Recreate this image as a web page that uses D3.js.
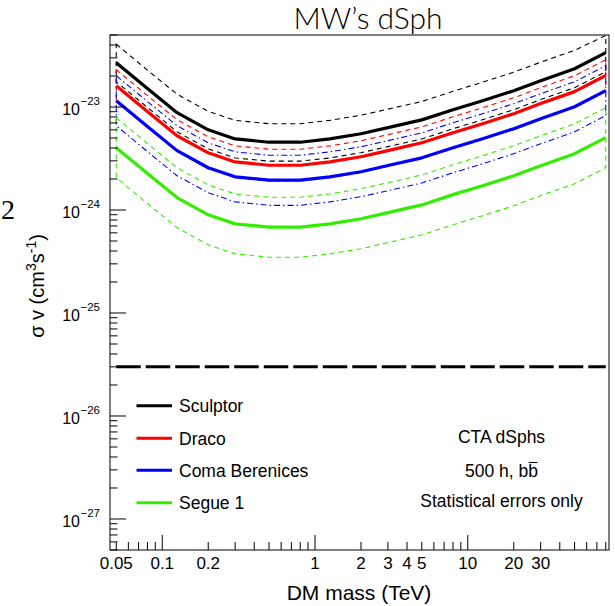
<!DOCTYPE html>
<html>
<head>
<meta charset="utf-8">
<script src="https://cdn.jsdelivr.net/npm/d3@7"></script>
<style>
  html, body { margin: 0; padding: 0; background: #fff; }
  svg { display: block; font-family: "Liberation Sans", Arial, Helvetica, sans-serif; }
</style>
</head>
<body>
<svg id="chart" width="615" height="606"></svg>
<script>
'use strict';

/* DM mass grid (TeV) and sigma-v limits */
const masses = [0.05, 0.08, 0.125, 0.2, 0.3, 0.5, 0.8, 1.25, 2, 3, 5, 8, 12.5, 20, 30, 50, 80];

const sculptor   = [2.69e-23, 1.51e-23, 8.8e-24, 6.0e-24, 4.9e-24, 4.55e-24, 4.55e-24, 4.9e-24, 5.5e-24, 6.3e-24, 7.5e-24, 9.4e-24, 1.15e-23, 1.44e-23, 1.8e-23, 2.35e-23, 3.37e-23];
const sculptorHi = [4.07e-23, 2.28e-23, 1.33e-23, 9.07e-24, 7.41e-24, 6.88e-24, 6.88e-24, 7.41e-24, 8.32e-24, 9.53e-24, 1.13e-23, 1.42e-23, 1.74e-23, 2.18e-23, 2.72e-23, 3.55e-23, 4.95e-23];
const sculptorLo = [1.76e-23, 9.9e-24, 5.75e-24, 3.92e-24, 3.2e-24, 2.98e-24, 2.98e-24, 3.2e-24, 3.6e-24, 4.12e-24, 4.9e-24, 6.15e-24, 7.52e-24, 9.42e-24, 1.18e-23, 1.54e-23, 2.2e-23];

const draco   = [1.61e-23, 9.03e-24, 5.26e-24, 3.59e-24, 2.93e-24, 2.72e-24, 2.72e-24, 2.93e-24, 3.29e-24, 3.77e-24, 4.49e-24, 5.62e-24, 6.88e-24, 8.61e-24, 1.08e-23, 1.41e-23, 2.02e-23];
const dracoHi = [2.3e-23, 1.29e-23, 7.52e-24, 5.13e-24, 4.19e-24, 3.89e-24, 3.89e-24, 4.19e-24, 4.7e-24, 5.39e-24, 6.41e-24, 8.04e-24, 9.83e-24, 1.23e-23, 1.54e-23, 2.01e-23, 2.88e-23];
const dracoLo = [1.13e-23, 6.34e-24, 3.7e-24, 2.52e-24, 2.06e-24, 1.91e-24, 1.91e-24, 2.06e-24, 2.31e-24, 2.65e-24, 3.15e-24, 3.95e-24, 4.83e-24, 6.05e-24, 7.56e-24, 9.87e-24, 1.415e-23];

const coma   = [1.15e-23, 6.46e-24, 3.77e-24, 2.57e-24, 2.1e-24, 1.95e-24, 1.95e-24, 2.1e-24, 2.35e-24, 2.7e-24, 3.21e-24, 4.02e-24, 4.92e-24, 6.16e-24, 7.7e-24, 1.006e-23, 1.44e-23];
const comaHi = [2.01e-23, 1.13e-23, 6.58e-24, 4.49e-24, 3.67e-24, 3.4e-24, 3.4e-24, 3.67e-24, 4.11e-24, 4.71e-24, 5.61e-24, 7.03e-24, 8.6e-24, 1.077e-23, 1.346e-23, 1.758e-23, 2.52e-23];
const comaLo = [6.58e-24, 3.69e-24, 2.15e-24, 1.47e-24, 1.2e-24, 1.11e-24, 1.11e-24, 1.2e-24, 1.345e-24, 1.54e-24, 1.83e-24, 2.3e-24, 2.81e-24, 3.52e-24, 4.4e-24, 5.75e-24, 8.24e-24];

const segue   = [4.02e-24, 2.26e-24, 1.32e-24, 8.98e-25, 7.33e-25, 6.81e-25, 6.81e-25, 7.33e-25, 8.23e-25, 9.42e-25, 1.12e-24, 1.41e-24, 1.72e-24, 2.15e-24, 2.69e-24, 3.52e-24, 5.04e-24];
const segueHi = [7.87e-24, 4.42e-24, 2.57e-24, 1.75e-24, 1.43e-24, 1.33e-24, 1.33e-24, 1.43e-24, 1.61e-24, 1.84e-24, 2.19e-24, 2.75e-24, 3.36e-24, 4.21e-24, 5.26e-24, 6.87e-24, 9.85e-24];
const segueLo = [2.06e-24, 1.155e-24, 6.73e-25, 4.59e-25, 3.75e-25, 3.48e-25, 3.48e-25, 3.75e-25, 4.21e-25, 4.82e-25, 5.74e-25, 7.19e-25, 8.8e-25, 1.1e-24, 1.38e-24, 1.8e-24, 2.58e-24];

const thermalRelic = 3e-26;

const galaxies = ['Sculptor', 'Draco', 'Coma Berenices', 'Segue 1'];
const xTickLabels = [0.05, 0.1, 0.2, 1, 2, 3, 4, 5, 10, 20, 30];
const yDecades = [-27, -26, -25, -24, -23];
const infoLines = ['CTA dSphs', '500 h, bb', 'Statistical errors only'];

/* ---- styling ---- */
const series = [
  { name: galaxies[0], mid: sculptor, hi: sculptorHi, lo: sculptorLo, color: '#000000', dash: '5,4' },
  { name: galaxies[1], mid: draco,    hi: dracoHi,    lo: dracoLo,    color: '#ff0000', dash: '5,4' },
  { name: galaxies[2], mid: coma,     hi: comaHi,     lo: comaLo,     color: '#0000ff', dash: '6,3,1.5,3' },
  { name: galaxies[3], mid: segue,    hi: segueHi,    lo: segueLo,    color: '#33ee00', dash: '5,4' }
];

const frame = { left: 110, right: 609, top: 35, bottom: 550 };
const svg = d3.select('#chart');

const x = d3.scaleLog().domain([0.0455, 84]).range([frame.left, frame.right]);
const y = d3.scaleLog().domain([5e-28, 5e-23]).range([frame.bottom, frame.top]);

svg.append('defs').append('clipPath').attr('id', 'plot-clip')
  .append('rect').attr('x', frame.left).attr('y', frame.top)
  .attr('width', frame.right - frame.left).attr('height', frame.bottom - frame.top);

const plot = svg.append('g').attr('clip-path', 'url(#plot-clip)');

/* Bands: closed dashed outlines (upper forward, lower back) */
const line = d3.line().x(d => x(d[0])).y(d => y(d[1]));
const bandLine = d3.line().x(d => x(d[0])).y(d => y(d[1])).curve(d3.curveLinearClosed);

plot.append('g').selectAll('path').data(series).join('path')
  .attr('d', s => bandLine(masses.map((m, i) => [m, s.hi[i]]).concat(masses.map((m, i) => [m, s.lo[i]]).reverse())))
  .attr('fill', 'none')
  .attr('stroke', s => s.color)
  .attr('stroke-width', 1.1)
  .attr('stroke-dasharray', s => s.dash);

plot.append('g').selectAll('path').data(series).join('path')
  .attr('d', s => line(masses.map((m, i) => [m, s.mid[i]])))
  .attr('fill', 'none')
  .attr('stroke', s => s.color)
  .attr('stroke-width', 3.2)
  .attr('stroke-linejoin', 'round');

/* Thermal relic cross-section */
plot.append('line')
  .attr('x1', x(masses[0])).attr('x2', x(masses[masses.length - 1]))
  .attr('y1', y(thermalRelic)).attr('y2', y(thermalRelic))
  .attr('stroke', '#000').attr('stroke-width', 3)
  .attr('stroke-dasharray', '24.5,5');

/* Frame */
svg.append('rect')
  .attr('x', frame.left).attr('y', frame.top)
  .attr('width', frame.right - frame.left).attr('height', frame.bottom - frame.top)
  .attr('fill', 'none').attr('stroke', '#000').attr('stroke-width', 1);

const isDecade = v => Math.abs(Math.log10(v) - Math.round(Math.log10(v))) < 1e-6;

/* X ticks (inside, bottom) */
svg.append('g').selectAll('line').data(x.ticks()).join('line')
  .attr('x1', d => x(d)).attr('x2', d => x(d))
  .attr('y1', frame.bottom).attr('y2', d => frame.bottom - (isDecade(d) ? 15 : 8))
  .attr('stroke', '#000').attr('stroke-width', 1);

svg.append('g').selectAll('text').data(xTickLabels).join('text')
  .attr('x', d => x(d)).attr('y', 568.5)
  .attr('text-anchor', 'middle')
  .style('font-size', '17px')
  .text(d => String(d));

/* Y ticks (inside, left) */
svg.append('g').selectAll('line').data(y.ticks()).join('line')
  .attr('x1', frame.left).attr('x2', d => frame.left + (isDecade(d) ? 16 : 7.5))
  .attr('y1', d => y(d)).attr('y2', d => y(d))
  .attr('stroke', '#000').attr('stroke-width', 1);

const yLab = svg.append('g').selectAll('g').data(yDecades).join('g')
  .attr('transform', d => `translate(0,${y(Math.pow(10, d))})`);
yLab.append('text')
  .attr('x', 80).attr('y', 8)
  .attr('text-anchor', 'end')
  .style('font-size', '16px')
  .text('10');
yLab.append('text')
  .attr('x', 80.5).attr('y', -1.5)
  .style('font-size', '11.5px')
  .text(d => '\u2212' + Math.abs(d));

/* Axis titles */
svg.append('text')
  .attr('x', 359).attr('y', 600)
  .attr('text-anchor', 'middle')
  .style('font-size', '21px')
  .text('DM mass (TeV)');

const yTitle = svg.append('text')
  .attr('transform', 'translate(44,286) rotate(-90)')
  .attr('text-anchor', 'middle')
  .style('font-size', '20px');
yTitle.append('tspan').text('\u03c3 v (cm');
yTitle.append('tspan').attr('dy', -8).style('font-size', '14px').text('3');
yTitle.append('tspan').attr('dy', 8).text('s');
yTitle.append('tspan').attr('dy', -8).style('font-size', '14px').text('-1');
yTitle.append('tspan').attr('dy', 8).text(')');

/* Title */
svg.append('text')
  .attr('x', 368).attr('y', 29)
  .attr('text-anchor', 'middle')
  .style('font-family', 'Lato, "Open Sans", sans-serif')
  .style('font-weight', 300)
  .style('font-size', '30px')
  .text('MW\u2019s dSph');

/* Glyph at the left edge, left over from the neighbouring panel */
svg.append('text')
  .attr('x', 1).attr('y', 219)
  .style('font-family', '"Liberation Serif", "DejaVu Serif", serif')
  .style('font-size', '28px')
  .text('2');

/* Legend */
const legendRows = [405.7, 438.3, 470.3, 502.7];
const legend = svg.append('g').selectAll('g').data(series).join('g')
  .attr('transform', (d, i) => `translate(0,${legendRows[i]})`);
legend.append('line')
  .attr('x1', 136.5).attr('x2', 172)
  .attr('stroke', d => d.color).attr('stroke-width', 3);
legend.append('text')
  .attr('x', 179).attr('y', 6.5)
  .style('font-size', '17.5px')
  .text(d => d.name);

/* Info text */
const infoRows = [443.3, 477, 507.3];
const info = svg.append('g').selectAll('text').data(infoLines).join('text')
  .attr('x', 501.5).attr('y', (d, i) => infoRows[i])
  .attr('text-anchor', 'middle')
  .style('font-size', '17.5px')
  .text(d => d);

/* overline on the last b of "bb" */
const bbText = info.filter((d, i) => i === 1).node();
const n = bbText.getNumberOfChars();
const s0 = bbText.getStartPositionOfChar(n - 1), e0 = bbText.getEndPositionOfChar(n - 1);
svg.append('line')
  .attr('x1', s0.x + 0.5).attr('x2', e0.x - 0.5)
  .attr('y1', infoRows[1] - 14.5).attr('y2', infoRows[1] - 14.5)
  .attr('stroke', '#000').attr('stroke-width', 1.1);
</script>
</body>
</html>
